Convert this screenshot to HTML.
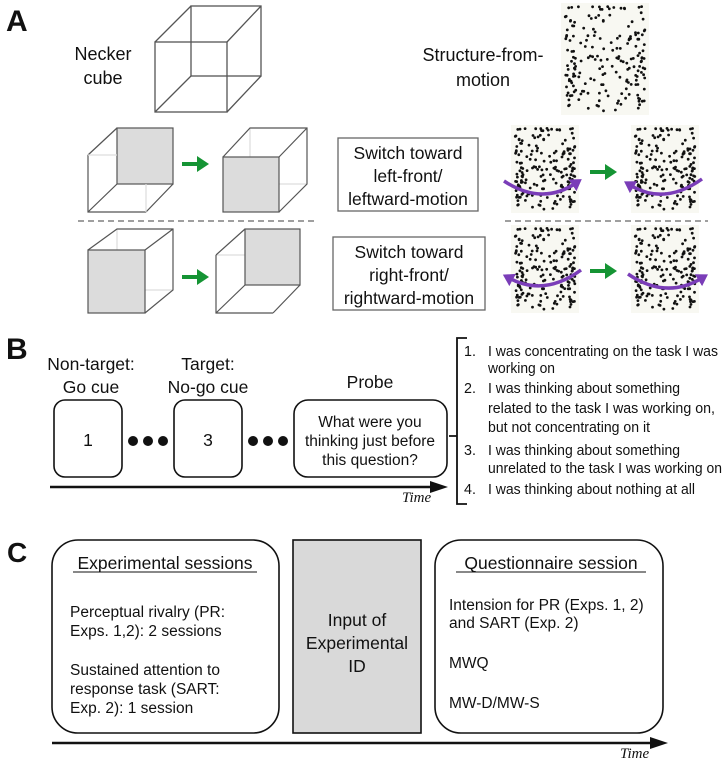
<!DOCTYPE html>
<html><head><meta charset="utf-8"><style>
html,body{margin:0;padding:0;background:#fff}
svg{display:block}
text{font-family:"Liberation Sans",sans-serif;fill:#111}
</style></head><body>
<svg id="s" width="725" height="762" viewBox="0 0 725 762" xmlns="http://www.w3.org/2000/svg">
<defs>
<marker id="ga" markerWidth="4" markerHeight="4" refX="1.5" refY="2" orient="auto" markerUnits="strokeWidth"><path d="M0,0 L3,2 L0,4 z" fill="#159434"/></marker>
<marker id="pa" markerWidth="4" markerHeight="4" refX="1.2" refY="2" orient="auto" markerUnits="strokeWidth"><path d="M0,0 L3.2,2 L0,4 z" fill="#7a3db8"/></marker>
</defs>
<text x="6" y="31" font-size="30" font-weight="bold">A</text>
<g fill="none" stroke="#555" stroke-width="1.3">
<rect x="155" y="42" width="72" height="70"/><rect x="191" y="6" width="70" height="70"/>
<path d="M155,42 L191,6 M227,42 L261,6 M155,112 L191,76 M227,112 L261,76"/>
</g>
<text x="103" y="60" font-size="18" text-anchor="middle">Necker</text>
<text x="103" y="84" font-size="18" text-anchor="middle">cube</text>
<g stroke="#555" stroke-width="1.2">
<path d="M88,155 L117,128 M146,155 L173,128 M88,212 L117,184 M146,212 L173,184" fill="none" stroke="#ddd"/>
<rect x="117" y="128" width="56" height="56" fill="#dcdcdc"/>
<path d="M88,155 L117,128 M88,212 L117,184 M146,212 L173,184" fill="none"/>
<path d="M88,155 L88,212 L146,212" fill="none"/>
<path d="M88,155 L117,155 M146,184 L146,212" fill="none" stroke="#ddd"/>
</g>
<g stroke="#555" stroke-width="1.2" fill="none">
<path d="M250,128 L250,184 L223,212 M250,184 L307,184" stroke="#ddd"/>
<path d="M223,157 L250,128 L307,128 L307,184 L279,212 M279,157 L307,128"/>
<rect x="223" y="157" width="56" height="55" fill="#dcdcdc"/>
</g>
<line x1="182" y1="164" x2="203" y2="164" stroke="#159434" stroke-width="4" marker-end="url(#ga)"/>
<line x1="78" y1="221" x2="315" y2="221" stroke="#666" stroke-width="1.2" stroke-dasharray="6,4"/>
<g stroke="#555" stroke-width="1.2" fill="none">
<path d="M117,229 L117,290 L88,313 M117,290 L173,290" stroke="#ddd"/>
<path d="M88,250 L117,229 L173,229 L173,290 L145,313 M145,250 L173,229"/>
<rect x="88" y="250" width="57" height="63" fill="#dcdcdc"/>
</g>
<g stroke="#555" stroke-width="1.2" fill="none">
<path d="M216,255 L273,255 L273,285" stroke="#ddd"/>
<rect x="245" y="229" width="55" height="56" fill="#dcdcdc"/>
<path d="M216,255 L245,229 M216,313 L245,285 M273,313 L300,285 M216,255 L216,313 L273,313"/>
</g>
<line x1="182" y1="277" x2="203" y2="277" stroke="#159434" stroke-width="4" marker-end="url(#ga)"/>
<rect x="338" y="138" width="140" height="73" fill="#fff" stroke="#666" stroke-width="1.3"/>
<text font-size="17.5" text-anchor="middle"><tspan x="408" y="159">Switch toward</tspan><tspan x="408" y="182">left-front/</tspan><tspan x="408" y="205">leftward-motion</tspan></text>
<rect x="333" y="237" width="152" height="73" fill="#fff" stroke="#666" stroke-width="1.3"/>
<text font-size="17.5" text-anchor="middle"><tspan x="409" y="258">Switch toward</tspan><tspan x="409" y="281">right-front/</tspan><tspan x="409" y="304">rightward-motion</tspan></text>
<text x="483" y="61" font-size="18" text-anchor="middle">Structure-from-</text>
<text x="483" y="86" font-size="18" text-anchor="middle">motion</text>
<g id="panels"></g>
<line x1="505" y1="221" x2="708" y2="221" stroke="#666" stroke-width="1.2" stroke-dasharray="6,4"/>
<line x1="590" y1="172" x2="611" y2="172" stroke="#159434" stroke-width="4" marker-end="url(#ga)"/>
<line x1="590" y1="271" x2="611" y2="271" stroke="#159434" stroke-width="4" marker-end="url(#ga)"/>
<g fill="none" stroke="#7a3db8" stroke-width="3.5">
<path d="M504,181 Q542,206 576,183" marker-end="url(#pa)"/>
<path d="M702,179 Q664,206 630,185" marker-end="url(#pa)"/>
<path d="M581,270 Q544,297 509,278" marker-end="url(#pa)"/>
<path d="M628,274 Q666,300 702,278" marker-end="url(#pa)"/>
</g>
<text x="6" y="359" font-size="30" font-weight="bold">B</text>
<text font-size="17.5" text-anchor="middle"><tspan x="91" y="370">Non-target:</tspan><tspan x="91" y="393">Go cue</tspan><tspan x="208" y="370">Target:</tspan><tspan x="208" y="393">No-go cue</tspan><tspan x="370" y="388">Probe</tspan></text>
<g fill="#fff" stroke="#111" stroke-width="1.6">
<rect x="54" y="400" width="68" height="77" rx="11"/>
<rect x="174" y="400" width="68" height="77" rx="11"/>
<rect x="294" y="400" width="153" height="77" rx="14"/>
</g>
<text x="88" y="446" font-size="17.5" text-anchor="middle">1</text>
<text x="208" y="446" font-size="17.5" text-anchor="middle">3</text>
<g fill="#111"><circle cx="133" cy="441" r="5"/><circle cx="148" cy="441" r="5"/><circle cx="163" cy="441" r="5"/><circle cx="253" cy="441" r="5"/><circle cx="268" cy="441" r="5"/><circle cx="283" cy="441" r="5"/></g>
<text font-size="15.5" text-anchor="middle"><tspan x="370" y="427">What were you</tspan><tspan x="370" y="446">thinking just before</tspan><tspan x="370" y="465">this question?</tspan></text>
<line x1="50" y1="487" x2="432" y2="487" stroke="#111" stroke-width="2.5"/>
<path d="M430,481 L448,487 L430,493 z" fill="#111"/>
<text x="402" y="502" font-size="15" font-style="italic" style="font-family:'Liberation Serif',serif">Time</text>
<path d="M467,338 L457,338 L457,504 L467,504 M457,436 L449,436" fill="none" stroke="#111" stroke-width="1.8"/>
<g font-size="14.3">
<text x="464" y="356">1.</text><text x="488" y="356" textLength="230" lengthAdjust="spacingAndGlyphs">I was concentrating on the task I was</text><text x="488" y="373" textLength="67" lengthAdjust="spacingAndGlyphs">working on</text>
<text x="464" y="393">2.</text><text x="488" y="393" textLength="192" lengthAdjust="spacingAndGlyphs">I was thinking about something</text><text x="488" y="413" textLength="227" lengthAdjust="spacingAndGlyphs">related to the task I was working on,</text><text x="488" y="432" textLength="162" lengthAdjust="spacingAndGlyphs">but not concentrating on it</text>
<text x="464" y="455">3.</text><text x="488" y="455" textLength="192" lengthAdjust="spacingAndGlyphs">I was thinking about something</text><text x="488" y="473" textLength="234" lengthAdjust="spacingAndGlyphs">unrelated to the task I was working on</text>
<text x="464" y="494">4.</text><text x="488" y="494" textLength="207" lengthAdjust="spacingAndGlyphs">I was thinking about nothing at all</text>
</g>
<text x="7" y="562" font-size="28" font-weight="bold">C</text>
<g fill="#fff" stroke="#111" stroke-width="1.6">
<rect x="52" y="540" width="227" height="193" rx="26"/>
<rect x="435" y="540" width="228" height="193" rx="26"/>
</g>
<rect x="293" y="540" width="128" height="193" fill="#d9d9d9" stroke="#111" stroke-width="1.6"/>
<text x="165" y="569" font-size="17.5" text-anchor="middle">Experimental sessions</text>
<line x1="73" y1="572" x2="257" y2="572" stroke="#111" stroke-width="1"/>
<text x="551" y="569" font-size="17.5" text-anchor="middle">Questionnaire session</text>
<line x1="456" y1="572" x2="646" y2="572" stroke="#111" stroke-width="1"/>
<g font-size="15.5">
<text x="70" y="617">Perceptual rivalry (PR:</text><text x="70" y="636">Exps. 1,2): 2 sessions</text>
<text x="70" y="675">Sustained attention to</text><text x="70" y="694">response task (SART:</text><text x="70" y="713">Exp. 2): 1 session</text>
<text x="449" y="610">Intension for PR (Exps. 1, 2)</text><text x="449" y="628">and SART (Exp. 2)</text>
<text x="449" y="668">MWQ</text><text x="449" y="708">MW-D/MW-S</text>
</g>
<text font-size="17.5" text-anchor="middle"><tspan x="357" y="626">Input of</tspan><tspan x="357" y="649">Experimental</tspan><tspan x="357" y="672">ID</tspan></text>
<line x1="52" y1="743" x2="652" y2="743" stroke="#111" stroke-width="2.5"/>
<path d="M650,737 L668,743 L650,749 z" fill="#111"/>
<text x="620" y="758" font-size="15" font-style="italic" style="font-family:'Liberation Serif',serif">Time</text>
</svg>
<script>
(function(){
var NS="http://www.w3.org/2000/svg";
var seed=12345;function r(){seed=(seed*1103515245+12345)%2147483648;return seed/2147483648;}
var pts=[];for(var i=0;i<190;i++){var x=r(),y=r();if(r()<0.3)x=r()<0.5?r()*0.12:0.88+r()*0.12;pts.push([x,y]);}
var p=document.getElementById('panels');
function panel(x,y,w,h){
 var bg=document.createElementNS(NS,'rect');bg.setAttribute('x',x-4);bg.setAttribute('y',y-3);bg.setAttribute('width',w+8);bg.setAttribute('height',h+6);bg.setAttribute('fill','#f8f8f2');p.appendChild(bg);
 for(var i=0;i<pts.length;i++){var c=document.createElementNS(NS,'circle');c.setAttribute('cx',(x+pts[i][0]*w).toFixed(1));c.setAttribute('cy',(y+pts[i][1]*h).toFixed(1));c.setAttribute('r','1.4');c.setAttribute('fill','#111');p.appendChild(c);}
}
panel(565,6,80,106);
panel(515,128,60,82);panel(635,128,60,82);
panel(515,228,60,82);panel(635,228,60,82);
})();
</script>
</body></html>
